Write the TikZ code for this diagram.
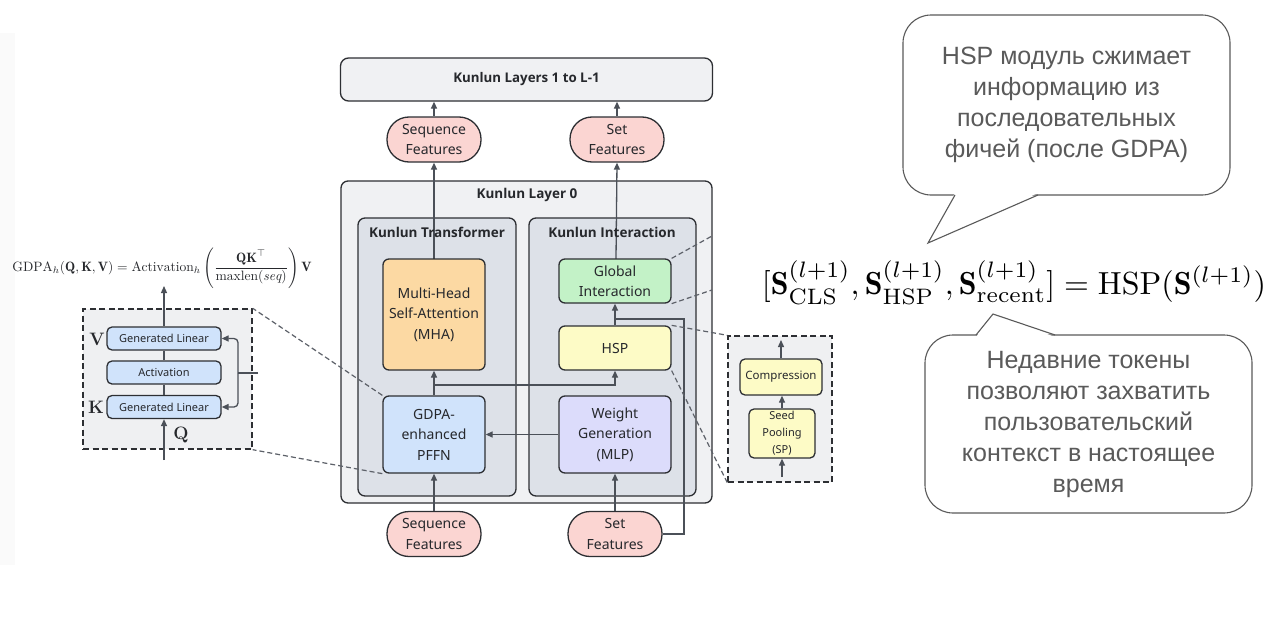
\documentclass[tikz,border=0pt]{standalone}
\usepackage{fontspec}
\usepackage{amsmath}
\usepackage{graphicx}
\usetikzlibrary{arrows.meta,calc}
\newfontfamily\ui{Noto Sans}
\newfontfamily\uib{Open Sans}
\newfontfamily\bub{Liberation Sans}
\definecolor{linec}{HTML}{2D2F33}
\definecolor{arrc}{HTML}{4B5058}
\definecolor{txtc}{HTML}{26282C}
\definecolor{outerc}{HTML}{F0F1F3}
\definecolor{innerc}{HTML}{DDE1E8}
\definecolor{pinkc}{HTML}{FBD5D2}
\definecolor{orangec}{HTML}{FCD9A3}
\definecolor{bluec}{HTML}{D0E3FB}
\definecolor{greenc}{HTML}{C3F2C7}
\definecolor{yellowc}{HTML}{FDFBC6}
\definecolor{lavc}{HTML}{DCDCFB}
\definecolor{panelc}{HTML}{EFF0F2}
\definecolor{bubc}{HTML}{5A5A5A}
\begin{document}
\begin{tikzpicture}[x=1pt,y=-1pt,
  box/.style={draw=linec, line width=1.3pt, rounded corners=6pt, align=center, text=txtc,
    font=\ui\fontsize{14}{20.5}\selectfont, inner sep=1pt},
  smallbox/.style={box, font=\ui\fontsize{11}{15}\selectfont, rounded corners=5pt},
  container/.style={draw=linec, line width=1.3pt, rounded corners=7pt},
  titletext/.style={font=\uib\bfseries\fontsize{13.5}{15}\selectfont, text=txtc, inner sep=1pt},
  pill/.style={box, fill=pinkc, rounded corners=22pt, minimum width=94pt, minimum height=45pt},
  arr/.style={draw=arrc, line width=1.3pt, -{Triangle[length=7pt,width=6pt]}},
  plain/.style={draw=arrc, line width=1.3pt},
  zoomline/.style={draw=arrc!90, line width=1.2pt, dash pattern=on 5pt off 3pt},
  panel/.style={draw=linec, fill=panelc, line width=1.4pt, dash pattern=on 6pt off 3.5pt},
  bubble/.style={draw=bubc, line width=1.1pt, fill=white, rounded corners=28pt, align=center,
    text=bubc, font=\bub\fontsize{25}{31}\selectfont},
  bubtail/.style={draw=bubc, line width=1.1pt}
]
\useasboundingbox (0,0) rectangle (1280,621);
\fill[white] (0,0) rectangle (1280,621);
\fill[black!2] (0,33) rectangle (15,565);

% containers
\node[container, fill=outerc, minimum width=371pt, minimum height=322pt] (L0) at (526.5,342) {};
\node[container, fill=innerc, minimum width=158pt, minimum height=278pt] (KT) at (437,357) {};
\node[container, fill=innerc, minimum width=167pt, minimum height=278pt] (KI) at (612.5,357) {};
\node[titletext] (L0t) at (527,195) {Kunlun Layer 0};

% top box and ovals
\node[box, fill=outerc, minimum width=372pt, minimum height=43pt, rounded corners=8pt,
  font=\uib\bfseries\fontsize{13.3}{15}\selectfont] (top) at (526.5,79.5) {Kunlun Layers 1 to L-1};
\node[pill] (seqt) at (434,139.5) {Sequence\\Features};
\node[pill] (sett) at (617,139.5) {Set\\Features};
\node[pill] (seqb) at (434,534) {Sequence\\Features};
\node[pill] (setb) at (615,534) {Set\\Features};

% coordinates for routing
\coordinate (br) at (434,385);
\coordinate (loopc) at (684,319);
\coordinate (joinc) at (615,319);

% lines behind the inner boxes
\draw[arr] (434,259) -- (seqt.south);
\draw[arr] (616,259) -- (sett.south);
\node[titletext] (KTt) at (437,232) {Kunlun Transformer};
\node[titletext] (KIt) at (612,232) {Kunlun Interaction};
\draw[plain] (setb.east) -| (loopc) -- (joinc);

% inner boxes
\node[box, fill=orangec, minimum width=102pt, minimum height=111pt] (mha) at (434,314.5) {Multi-Head\\Self-Attention\\(MHA)};
\node[box, fill=bluec, minimum width=102pt, minimum height=77pt] (pffn) at (434,434.5) {GDPA-\\enhanced\\PFFN};
\node[box, fill=greenc, minimum width=112pt, minimum height=44pt] (gi) at (615,281) {Global\\Interaction};
\node[box, fill=yellowc, minimum width=112pt, minimum height=44pt] (hsp) at (615,348) {HSP};
\node[box, fill=lavc, minimum width=112pt, minimum height=77pt] (wg) at (615,434.5) {Weight\\Generation\\(MLP)};

% arrows between boxes
\draw[arr] (seqt.north) -- (seqt.north |- top.south);
\draw[arr] (sett.north) -- (sett.north |- top.south);
\draw[arr] (seqb.north) -- (pffn.south);
\draw[arr] (setb.north) -- (wg.south);
\draw[arr] (pffn.north) -- (mha.south);
\draw[arr] (br) -| (hsp.south);
\draw[arr] (wg.west) -- (pffn.east);
\draw[arr] (hsp.north) -- (gi.south);

% left GDPA panel
\node[panel, minimum width=169pt, minimum height=140pt] (gp) at (167.5,379) {};
\node[smallbox, fill=bluec, minimum width=114pt, minimum height=23pt] (glv) at (164,338.5) {Generated Linear};
\node[smallbox, fill=bluec, minimum width=114pt, minimum height=23pt] (act) at (164,372.5) {Activation};
\node[smallbox, fill=bluec, minimum width=114pt, minimum height=23pt] (glk) at (164,407) {Generated Linear};
\node[font=\bfseries\fontsize{18}{18}\selectfont, text=txtc, inner sep=0pt] (vlab) at (97,339) {V};
\node[font=\bfseries\fontsize{18}{18}\selectfont, text=txtc, inner sep=0pt] (klab) at (96,407) {K};
\node[font=\bfseries\fontsize{18}{18}\selectfont, text=txtc, inner sep=0pt] (qlab) at (181,435) {Q};
\coordinate (qin) at (164,460);
\coordinate (gout) at (164,286);
\coordinate (bin) at (258,373);
\coordinate (bj) at (238,373);
\draw[arr] (qin) -- (glk.south);
\draw[plain] (glk.north) -- (act.south);
\draw[plain] (act.north) -- (glv.south);
\draw[arr] (glv.north) -- (gout);
\draw[plain] (bin) -- (bj);
\draw[arr, rounded corners=4pt] (bj) |- (glv.east);
\draw[arr, rounded corners=4pt] (bj) |- (glk.east);
\node[text=txtc, inner sep=0pt] (gdpa) at (162,268) {\resizebox{299pt}{!}{$\mathrm{GDPA}_h(\mathbf{Q},\mathbf{K},\mathbf{V}) = \mathrm{Activation}_h\left(\dfrac{\mathbf{QK}^{\top}}{\mathrm{maxlen}(\mathit{seq})}\right)\mathbf{V}$}};

% zoom lines to the GDPA panel
\draw[zoomline] (pffn.north west) -- (gp.north east);
\draw[zoomline] (pffn.south west) -- (gp.south east);

% right HSP panel
\node[panel, minimum width=104pt, minimum height=146pt] (hp) at (780,409) {};
\node[smallbox, fill=yellowc, minimum width=82pt, minimum height=36pt, font=\ui\fontsize{11.5}{14}\selectfont] (comp) at (781,377) {Compression};
\node[smallbox, fill=yellowc, minimum width=66pt, minimum height=49pt, font=\ui\fontsize{11}{17}\selectfont] (sp) at (782,433.5) {Seed\\Pooling\\(SP)};
\coordinate (spin) at (782,477);
\coordinate (hpout) at (781,340);
\draw[arr] (spin) -- (sp.south);
\draw[arr] (sp.north) -- (sp.north |- comp.south);
\draw[arr] (comp.north) -- (hpout);
\draw[zoomline] (hsp.north east) -- (hp.north west);
\draw[zoomline] (hsp.south east) -- (hp.south west);

% zoom lines from Global Interaction
\coordinate (gz1) at (712,236);
\coordinate (gz2) at (712,290);
\draw[zoomline] (gi.north east) -- (gz1);
\draw[zoomline] (gi.south east) -- (gz2);

% HSP formula
\node[text=black, inner sep=0pt] (hspf) at (1014,283) {\resizebox{504pt}{!}{$[\mathbf{S}^{(l+1)}_{\mathrm{CLS}},\mathbf{S}^{(l+1)}_{\mathrm{HSP}},\mathbf{S}^{(l+1)}_{\mathrm{recent}}] = \mathrm{HSP}(\mathbf{S}^{(l+1)})$}};

% speech bubbles
\node[bubble, minimum width=327pt, minimum height=180pt] (b1) at (1066.5,105) {HSP модуль сжимает\\информацию из\\последовательных\\фичей (после GDPA)};
\coordinate (t1a) at (955,195);
\coordinate (t1b) at (1038,195);
\coordinate (t1c) at (928,243);
\fill[white] ($(t1a)+(0,-2)$) -- (t1c) -- ($(t1b)+(0,-2)$) -- cycle;
\draw[bubtail] (t1a) -- (t1c) -- (t1b);

\node[bubble, minimum width=327pt, minimum height=178pt] (b2) at (1088.5,424) {Недавние токены\\позволяют захватить\\пользовательский\\контекст в настоящее\\время};
\coordinate (t2a) at (976,335);
\coordinate (t2b) at (1055,335);
\coordinate (t2c) at (993,314);
\fill[white] ($(t2a)+(0,2)$) -- (t2c) -- ($(t2b)+(0,2)$) -- cycle;
\draw[bubtail] (t2a) -- (t2c) -- (t2b);
\end{tikzpicture}
\end{document}
